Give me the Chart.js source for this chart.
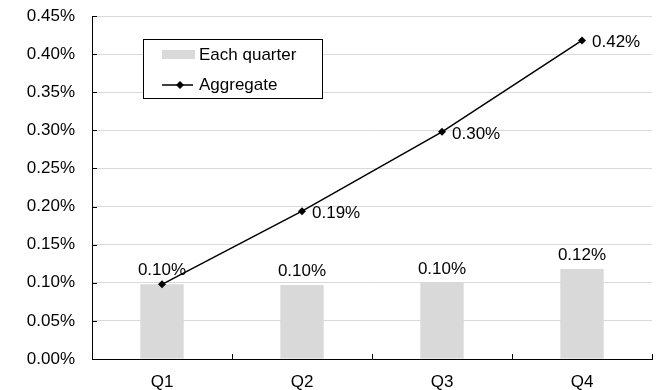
<!DOCTYPE html>
<html>
<head>
<meta charset="utf-8">
<script src="https://cdn.jsdelivr.net/npm/chart.js@4"></script>
<style>
  html, body { margin: 0; padding: 0; background: #fff; }
  #wrap { width: 660px; height: 390px; }
</style>
</head>
<body>
<div id="wrap"><canvas id="c" width="660" height="390"></canvas></div>
<script>
// values in percent
var quarters = ["Q1", "Q2", "Q3", "Q4"];
var eachQuarter = [0.098, 0.097, 0.100, 0.118];
var aggregate = [0.098, 0.194, 0.298, 0.418];
var yTicks = [0, 0.05, 0.10, 0.15, 0.20, 0.25, 0.30, 0.35, 0.40, 0.45];

var FONT = "'Liberation Sans', Arial, sans-serif";
var FSIZE = 17;
Chart.defaults.font.family = FONT;
Chart.defaults.font.size = FSIZE;
Chart.defaults.color = "#000";

function pct(v) {
    return v.toFixed(2) + "%";
}

// value labels above bars / right of line points
var labels = {
    id: "labels",
    afterDatasetsDraw: function(chart) {
        var ctx = chart.ctx;
        ctx.save();
        ctx.font = FSIZE + "px " + FONT;
        ctx.fillStyle = "#000";
        var bars = chart.getDatasetMeta(0).data;
        ctx.textAlign = "center";
        ctx.textBaseline = "alphabetic";
        for (var i = 0; i < bars.length; i++) {
            ctx.fillText(pct(eachQuarter[i]), bars[i].x, bars[i].y - 9);
        }
        var pts = chart.getDatasetMeta(1).data;
        ctx.textAlign = "left";
        ctx.textBaseline = "middle";
        for (var j = 1; j < pts.length; j++) {
            ctx.fillText(pct(aggregate[j]), pts[j].x + 10, pts[j].y + 2);
        }
        ctx.restore();
    }
};

// short tick marks pointing into the plot, like the original
var innerTicks = {
    id: "innerTicks",
    afterDatasetsDraw: function(chart) {
        var ctx = chart.ctx;
        var a = chart.chartArea;
        var ys = chart.scales.y;
        ctx.save();
        ctx.strokeStyle = "#000";
        ctx.lineWidth = 1;
        ctx.beginPath();
        yTicks.forEach(function(v) {
            var py = Math.round(ys.getPixelForValue(v)) + 0.5;
            ctx.moveTo(a.left, py);
            ctx.lineTo(a.left + 5, py);
        });
        var n = quarters.length;
        for (var k = 0; k <= n; k++) {
            var px = Math.round(a.left + (a.right - a.left) * k / n) + 0.5;
            ctx.moveTo(px, a.bottom);
            ctx.lineTo(px, a.bottom - 5);
        }
        ctx.stroke();
        ctx.restore();
    }
};

// boxed legend inside the plot area
var boxLegend = {
    id: "boxLegend",
    afterDraw: function(chart) {
        var ctx = chart.ctx;
        var a = chart.chartArea;
        var x = a.left + 51, y = a.top + 23, w = 179, h = 59;
        ctx.save();
        ctx.fillStyle = "#fff";
        ctx.fillRect(x, y, w, h);
        ctx.strokeStyle = "#000";
        ctx.lineWidth = 1;
        ctx.strokeRect(x + 0.5, y + 0.5, w, h);

        ctx.fillStyle = "#d9d9d9";
        ctx.fillRect(x + 19, y + 11, 33, 9);
        ctx.strokeStyle = "#000";
        ctx.lineWidth = 1.5;
        ctx.beginPath();
        ctx.moveTo(x + 19, y + 46);
        ctx.lineTo(x + 50, y + 46);
        ctx.stroke();
        ctx.fillStyle = "#000";
        ctx.beginPath();
        ctx.moveTo(x + 37, y + 42);
        ctx.lineTo(x + 41, y + 46);
        ctx.lineTo(x + 37, y + 50);
        ctx.lineTo(x + 33, y + 46);
        ctx.closePath();
        ctx.fill();

        ctx.font = FSIZE + "px " + FONT;
        ctx.textAlign = "left";
        ctx.textBaseline = "middle";
        ctx.fillText("Each quarter", x + 56, y + 16);
        ctx.fillText("Aggregate", x + 56, y + 46);
        ctx.restore();
    }
};

new Chart(document.getElementById("c"), {
    data: {
        labels: quarters,
        datasets: [
            {
                type: "bar",
                label: "Each quarter",
                data: eachQuarter,
                backgroundColor: "#d9d9d9",
                borderWidth: 0,
                barPercentage: 0.31,
                categoryPercentage: 1,
                order: 1
            },
            {
                type: "line",
                label: "Aggregate",
                data: aggregate,
                borderColor: "#000",
                backgroundColor: "#000",
                borderWidth: 1.5,
                pointStyle: "rectRot",
                pointRadius: 4,
                pointBackgroundColor: "#000",
                pointBorderWidth: 0,
                tension: 0,
                order: 0
            }
        ]
    },
    options: {
        responsive: false,
        animation: false,
        layout: { padding: { top: 16, right: 8, bottom: 0, left: 0 } },
        plugins: {
            legend: { display: false },
            tooltip: { enabled: false }
        },
        scales: {
            x: {
                offset: true,
                grid: { display: false },
                border: { display: true, color: "#000", width: 1 },
                ticks: { padding: 5, color: "#000" },
                afterFit: function(s) {
                    s.height = 31;
                    s.paddingLeft = 0;
                    s.paddingRight = 0;
                }
            },
            y: {
                min: 0,
                max: 0.45,
                afterBuildTicks: function(s) {
                    s.ticks = yTicks.map(function(v) { return { value: v }; });
                },
                grid: {
                    color: "#d9d9d9",
                    lineWidth: 1,
                    drawTicks: false
                },
                border: { display: true, color: "#000", width: 1 },
                ticks: {
                    padding: 17,
                    color: "#000",
                    callback: function(v) { return pct(v); }
                },
                afterFit: function(s) {
                    s.width = 92;
                    s.paddingTop = 0;
                    s.paddingBottom = 0;
                }
            }
        }
    },
    plugins: [labels, innerTicks, boxLegend]
});
</script>
</body>
</html>
